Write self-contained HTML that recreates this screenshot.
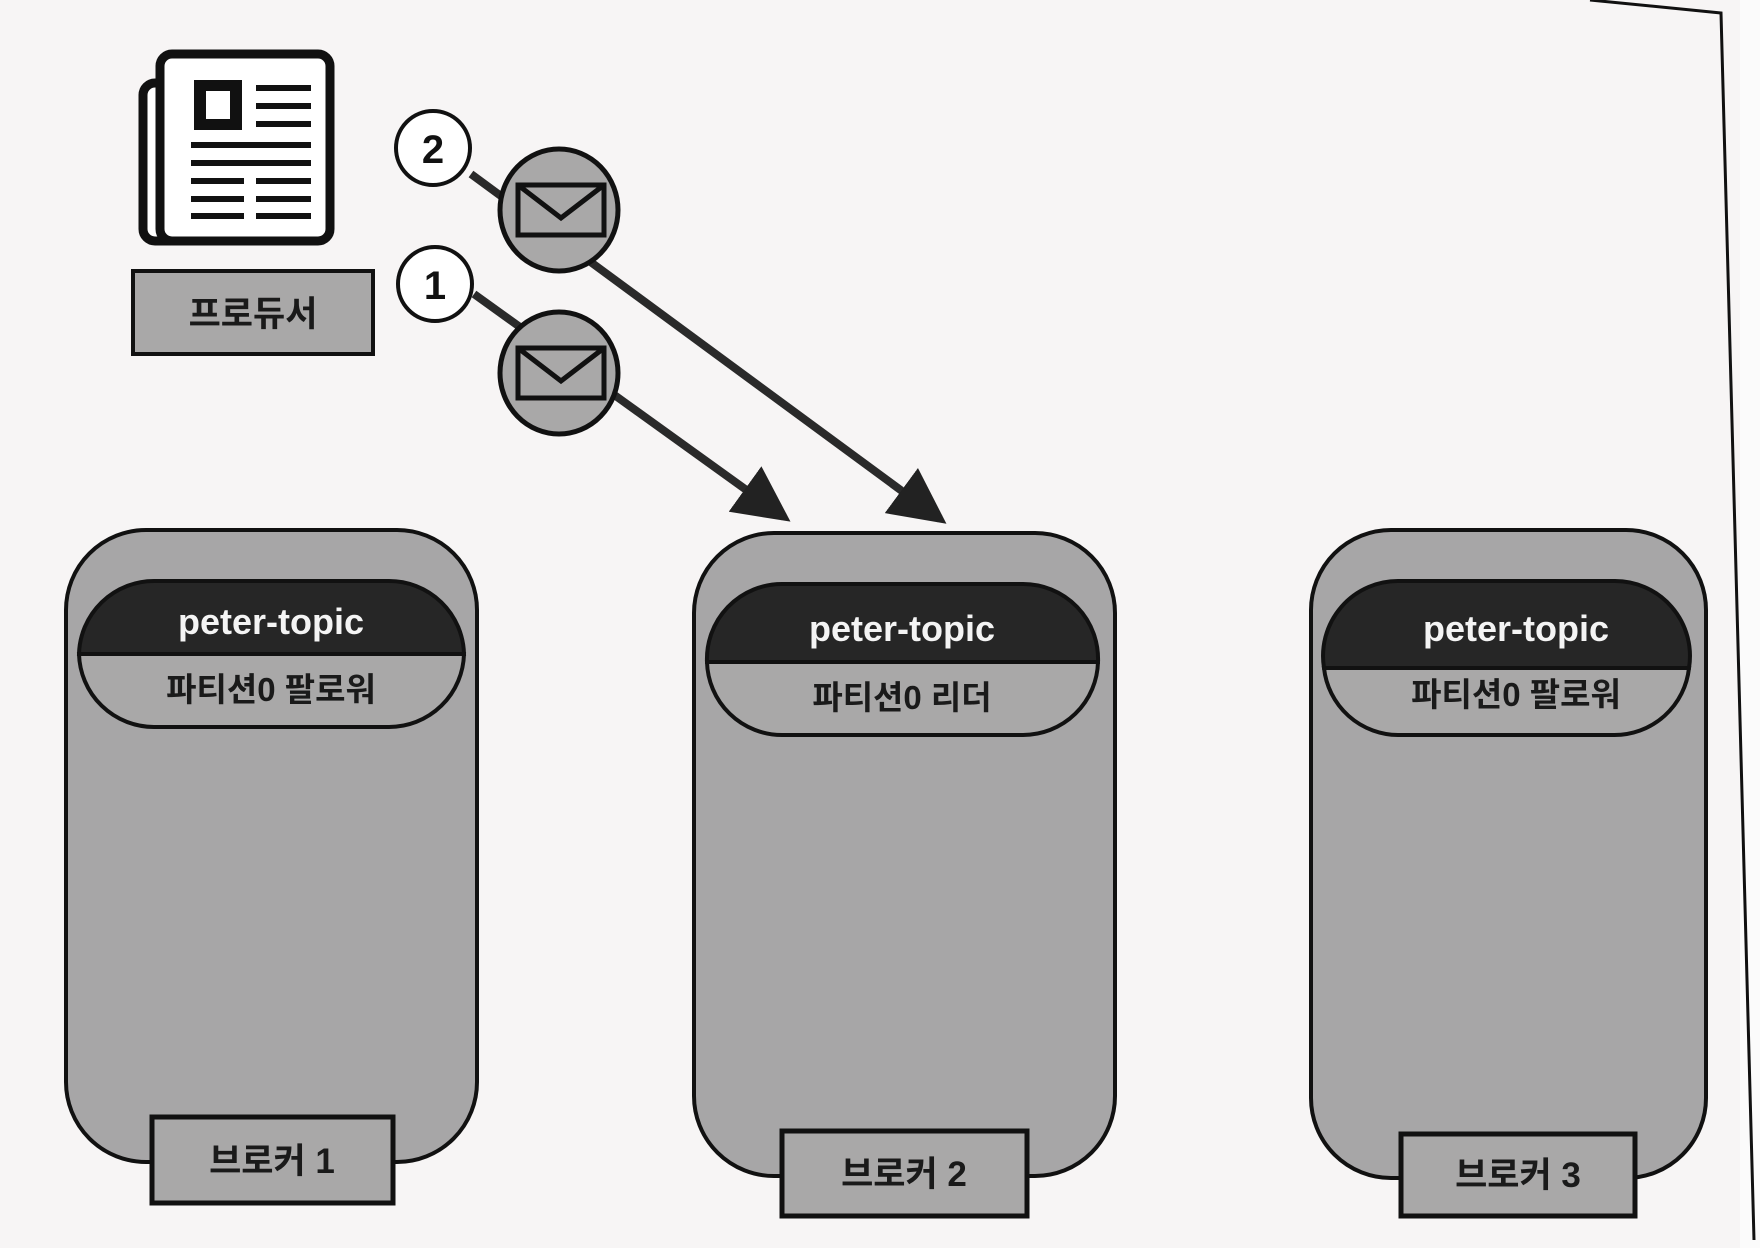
<!DOCTYPE html>
<html><head><meta charset="utf-8"><style>
html,body{margin:0;padding:0;background:#f7f5f5;}
svg{display:block}
text{font-family:"Liberation Sans","Noto Sans CJK KR",sans-serif;font-weight:bold;}
</style></head><body>
<svg width="1760" height="1248" viewBox="0 0 1760 1248" xmlns="http://www.w3.org/2000/svg">
<rect width="1760" height="1248" fill="#f7f5f5"/>
<rect x="1740" y="0" width="20" height="1248" fill="#fbfbfb"/>
<polyline points="1590,0 1721,13 1754,1240" fill="none" stroke="#111" stroke-width="3"/>
<defs>
<marker id="ah" markerWidth="7" markerHeight="7" refX="6" refY="3.5" orient="auto" markerUnits="strokeWidth">
<path d="M0,0 L7,3.5 L0,7 z" fill="#222"/></marker>
</defs>
<!-- newspaper -->
<rect x="143" y="83" width="40" height="158" rx="12" fill="#fff" stroke="#111" stroke-width="9"/>
<rect x="160" y="54" width="170" height="187" rx="12" fill="#fff" stroke="#111" stroke-width="9"/>
<rect x="194" y="80" width="48" height="50" fill="#111"/>
<rect x="206" y="91" width="24" height="28" fill="#fff"/>
<g stroke="#111" stroke-width="6">
<line x1="256" y1="88" x2="311" y2="88"/><line x1="256" y1="106" x2="311" y2="106"/><line x1="256" y1="124" x2="311" y2="124"/>
<line x1="191" y1="145" x2="311" y2="145"/><line x1="191" y1="163" x2="311" y2="163"/>
<line x1="191" y1="181" x2="244" y2="181"/><line x1="256" y1="181" x2="311" y2="181"/>
<line x1="191" y1="199" x2="244" y2="199"/><line x1="256" y1="199" x2="311" y2="199"/>
<line x1="191" y1="216" x2="244" y2="216"/><line x1="256" y1="216" x2="311" y2="216"/>
</g>
<rect x="133" y="271" width="240" height="83" fill="#a9a8a8" stroke="#111" stroke-width="4"/>
<text x="253" y="326" font-size="35" text-anchor="middle" fill="#1a1a1a">프로듀서</text>
<!-- arrows -->
<line x1="471" y1="174" x2="940" y2="519" stroke="#2a2a2a" stroke-width="8" marker-end="url(#ah)"/>
<line x1="474" y1="294" x2="784" y2="517" stroke="#2a2a2a" stroke-width="8" marker-end="url(#ah)"/>
<!-- number circles -->
<circle cx="433" cy="148" r="37" fill="#fff" stroke="#111" stroke-width="4"/>
<text x="433" y="163" font-size="40" text-anchor="middle" font-weight="normal" fill="#111">2</text>
<circle cx="435" cy="284" r="37" fill="#fff" stroke="#111" stroke-width="4"/>
<text x="435" y="299" font-size="40" text-anchor="middle" font-weight="normal" fill="#111">1</text>
<!-- envelopes -->
<g>
<ellipse cx="559" cy="210" rx="59" ry="61" fill="#a9a8a8" stroke="#111" stroke-width="5"/>
<rect x="518" y="185" width="86" height="50" fill="#a9a8a8" stroke="#111" stroke-width="5"/>
<polyline points="518,185 561,218 604,185" fill="none" stroke="#111" stroke-width="5"/>
<ellipse cx="559" cy="373" rx="59" ry="61" fill="#a9a8a8" stroke="#111" stroke-width="5"/>
<rect x="518" y="348" width="86" height="50" fill="#a9a8a8" stroke="#111" stroke-width="5"/>
<polyline points="518,348 561,381 604,348" fill="none" stroke="#111" stroke-width="5"/>
</g>
<!-- broker 1 -->
<rect x="66" y="530" width="411" height="632" rx="80" fill="#a7a6a7" stroke="#111" stroke-width="4"/>
<path d="M154,581 H389 A75,75 0 0 1 464,654 H79 A75,75 0 0 1 154,581 Z" fill="#262626" stroke="#111" stroke-width="4"/>
<path d="M79,654 H464 A75,75 0 0 1 389,727 H154 A75,75 0 0 1 79,654 Z" fill="#a9a8a8" stroke="#111" stroke-width="4"/>
<text x="271" y="634" font-size="36" text-anchor="middle" fill="#f4f4f4">peter-topic</text>
<text x="271" y="701" font-size="33" text-anchor="middle" fill="#1a1a1a">파티션0 팔로워</text>
<rect x="152" y="1117" width="241" height="86" fill="#a9a8a8" stroke="#111" stroke-width="5"/>
<text x="272" y="1173" font-size="35" text-anchor="middle" fill="#1a1a1a">브로커 1</text>
<!-- broker 2 -->
<rect x="694" y="533" width="421" height="643" rx="80" fill="#a7a6a7" stroke="#111" stroke-width="4"/>
<path d="M782,584 H1023 A75,75 0 0 1 1098,662 H707 A75,75 0 0 1 782,584 Z" fill="#262626" stroke="#111" stroke-width="4"/>
<path d="M707,662 H1098 A75,75 0 0 1 1023,735 H782 A75,75 0 0 1 707,662 Z" fill="#a9a8a8" stroke="#111" stroke-width="4"/>
<text x="902" y="641" font-size="36" text-anchor="middle" fill="#f4f4f4">peter-topic</text>
<text x="902" y="709" font-size="33" text-anchor="middle" fill="#1a1a1a">파티션0 리더</text>
<rect x="782" y="1131" width="245" height="85" fill="#a9a8a8" stroke="#111" stroke-width="5"/>
<text x="904" y="1186" font-size="35" text-anchor="middle" fill="#1a1a1a">브로커 2</text>
<!-- broker 3 -->
<rect x="1311" y="530" width="395" height="648" rx="80" fill="#a7a6a7" stroke="#111" stroke-width="4"/>
<path d="M1399,581 H1614 A75,75 0 0 1 1689,668 H1324 A75,75 0 0 1 1399,581 Z" fill="#262626" stroke="#111" stroke-width="4"/>
<path d="M1324,668 H1689 A75,75 0 0 1 1614,735 H1399 A75,75 0 0 1 1324,668 Z" fill="#a9a8a8" stroke="#111" stroke-width="4"/>
<text x="1516" y="641" font-size="36" text-anchor="middle" fill="#f4f4f4">peter-topic</text>
<text x="1516" y="706" font-size="33" text-anchor="middle" fill="#1a1a1a">파티션0 팔로워</text>
<rect x="1401" y="1134" width="234" height="82" fill="#a9a8a8" stroke="#111" stroke-width="5"/>
<text x="1518" y="1187" font-size="35" text-anchor="middle" fill="#1a1a1a">브로커 3</text>
</svg>
</body></html>
